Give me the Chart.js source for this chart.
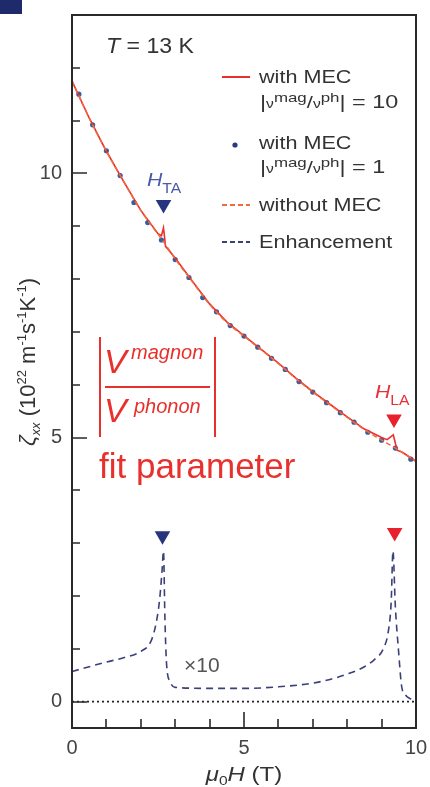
<!DOCTYPE html>
<html><head><meta charset="utf-8">
<script src="https://cdn.jsdelivr.net/npm/chart.js@4.4.1/dist/chart.umd.min.js"></script>
<style>html,body{margin:0;padding:0;background:#fff;}#wrap{width:430px;height:787px;}</style>
</head><body><div id="wrap"><canvas id="c" width="430" height="787"></canvas></div>
<script>
// ---------- data ----------
const withoutMecX = [0,0.5,1,1.5,2,2.5,2.6,2.7,3,3.5,4,4.5,5,5.5,6,6.5,7,7.5,8,8.5,9,9.3,9.4,9.5,10];
const withoutMecY = [11.75,11.05,10.42,9.85,9.30,8.85,8.76,8.67,8.38,7.95,7.52,7.18,6.92,6.66,6.40,6.12,5.86,5.62,5.38,5.15,4.95,4.84,4.80,4.76,4.55];

const mec10X = [0,0.5,1,1.5,2,2.5,2.6,2.66,2.72,3,3.5,4,4.5,5,5.5,6,6.5,7,7.5,8,8.5,9,9.16,9.34,9.45,9.6,10];
const mec10Y = [11.75,11.05,10.42,9.85,9.30,8.86,8.82,8.97,8.62,8.40,7.96,7.53,7.19,6.93,6.67,6.41,6.13,5.87,5.63,5.39,5.16,5.00,4.96,5.05,4.76,4.72,4.55];

const mec1X = [0.2,0.6,1.0,1.4,1.8,2.2,2.6,3.0,3.4,3.8,4.2,4.6,5.0,5.4,5.8,6.2,6.6,7.0,7.4,7.8,8.2,8.6,9.0,9.4,9.85];
const mec1Y = [11.50,10.92,10.43,9.96,9.45,9.07,8.74,8.37,8.03,7.65,7.38,7.12,6.92,6.71,6.50,6.29,6.06,5.86,5.66,5.47,5.29,5.10,4.95,4.80,4.59];

const enhX = [0,0.5,1.0,1.5,2.0,2.3,2.45,2.55,2.62,2.66,2.7,2.75,2.85,3.0,4,5,6,7,7.5,8,8.5,8.8,9.05,9.2,9.28,9.33,9.4,9.5,9.58,9.7,9.85,10];
const enhY = [0.57,0.66,0.75,0.83,0.95,1.15,1.5,1.95,2.5,2.85,1.6,0.7,0.38,0.27,0.25,0.25,0.28,0.35,0.42,0.52,0.66,0.80,1.0,1.35,1.9,2.85,1.8,0.9,0.3,0.12,0.05,0.0];

const zeroX = [0,10];
const zeroY = [0,0];

const taMarkX = [2.66,2.63];
const taMarkY = [9.41,3.14];
const laMarkX = [9.36,9.38];
const laMarkY = [5.35,3.20];

const xTickLabels = [0,5,10];
const yTickLabels = [0,5,10];
const xMinorTicks = [1,2,3,4,5,6,7,8,9];
const yMinorTicks = [0,1,2,3,4,5,6,7,8,9,10,11,12];

// ---------- helpers ----------
const pts = (xs, ys) => xs.map((x,i)=>({x:x,y:ys[i]}));
const FF = '"Liberation Sans", Arial, Helvetica, sans-serif';
const RED = '#e8302c', ORANGE = '#f06a3c', DOTBLUE = '#2d62a6', NAVY = '#3b4078', TXT = '#333';

function drawRich(ctx, parts, x, y, align, sx){
  sx = sx || 1;
  let w = 0;
  parts.forEach(p=>{ ctx.font = p.f; p.w = ctx.measureText(p.t).width; w += p.w; });
  ctx.save();
  ctx.translate(x, y);
  ctx.scale(sx, 1);
  let cx = align === 'center' ? -w/2 : 0;
  parts.forEach(p=>{ ctx.font = p.f; ctx.fillText(p.t, cx, (p.dy||0)); cx += p.w; });
  ctx.restore();
  return w*sx;
}
const L = (t, size, sx)=>[{t:t,f:size+'px '+FF}];

function zeroPad(s){ s.paddingTop = 0; s.paddingBottom = 0; s.paddingLeft = 0; s.paddingRight = 0; }

const decor = {
  id:'decor',
  beforeDraw(chart){
    const ctx = chart.ctx;
    ctx.save();
    ctx.fillStyle = '#fff'; ctx.fillRect(0,0,chart.width,chart.height);
    ctx.fillStyle = '#1f2a6a'; ctx.fillRect(0,0,22,14);
    ctx.restore();
  },
  afterDraw(chart){
    const ctx = chart.ctx, a = chart.chartArea, xs = chart.scales.x, ys = chart.scales.y;
    ctx.save();
    // frame
    ctx.strokeStyle = '#2a2a2a'; ctx.lineWidth = 2;
    ctx.strokeRect(a.left, a.top, a.right-a.left, a.bottom-a.top);
    // inward ticks
    ctx.lineWidth = 1.6;
    ctx.beginPath();
    yMinorTicks.forEach(v=>{
      const py = Math.round(ys.getPixelForValue(v));
      const len = yTickLabels.includes(v) ? 15 : 8;
      ctx.moveTo(a.left, py); ctx.lineTo(a.left+len, py);
    });
    xMinorTicks.forEach(v=>{
      const px = Math.round(xs.getPixelForValue(v));
      const len = xTickLabels.includes(v) ? 16 : 9;
      ctx.moveTo(px, a.bottom); ctx.lineTo(px, a.bottom-len);
    });
    ctx.stroke();

    ctx.textBaseline = 'alphabetic';
    ctx.textAlign = 'left';
    // T = 13 K
    ctx.fillStyle = TXT;
    drawRich(ctx,[{t:'T',f:'italic 22px '+FF},{t:' = 13 K',f:'22px '+FF}],106,53,'left',1.05);

    // legend
    ctx.lineWidth = 2;
    ctx.strokeStyle = RED; ctx.setLineDash([]);
    ctx.beginPath(); ctx.moveTo(222,77); ctx.lineTo(250,77); ctx.stroke();
    ctx.fillStyle = TXT;
    drawRich(ctx, L('with MEC',18), 259, 83, 'left', 1.2);
    const ratio = (val)=>[
      {t:'|',f:'18px '+FF},
      {t:'\u03bd',f:'12px '+FF},
      {t:'mag',f:'13px '+FF,dy:-6},
      {t:'/',f:'17px '+FF},
      {t:'\u03bd',f:'12px '+FF},
      {t:'ph',f:'13px '+FF,dy:-6},
      {t:'| = '+val,f:'18px '+FF}
    ];
    drawRich(ctx, ratio('10'), 260, 108, 'left', 1.3);
    ctx.fillStyle = '#2a3a80';
    ctx.beginPath(); ctx.arc(235,145,2.6,0,Math.PI*2); ctx.fill();
    ctx.fillStyle = TXT;
    drawRich(ctx, L('with MEC',18), 259, 149, 'left', 1.2);
    drawRich(ctx, ratio('1'), 260, 173, 'left', 1.3);
    ctx.strokeStyle = ORANGE; ctx.setLineDash([5,3]);
    ctx.beginPath(); ctx.moveTo(222,205); ctx.lineTo(250,205); ctx.stroke();
    ctx.strokeStyle = NAVY;
    ctx.beginPath(); ctx.moveTo(222,242); ctx.lineTo(250,242); ctx.stroke();
    ctx.setLineDash([]);
    ctx.fillStyle = TXT;
    drawRich(ctx, L('without MEC',18), 259, 211, 'left', 1.2);
    drawRich(ctx, L('Enhancement',18), 259, 248, 'left', 1.2);

    // H labels
    ctx.fillStyle = '#4b5aa6';
    drawRich(ctx,[{t:'H',f:'italic 19px '+FF},{t:'TA',f:'14px '+FF,dy:7}],147,186,'left',1.12);
    ctx.fillStyle = '#e8303a';
    drawRich(ctx,[{t:'H',f:'italic 19px '+FF},{t:'LA',f:'14px '+FF,dy:7}],375,398,'left',1.12);

    // x10
    ctx.fillStyle = '#555';
    ctx.font = '21px '+FF; ctx.fillText('\u00d710',184,672);

    // fraction annotation
    ctx.strokeStyle = RED; ctx.fillStyle = RED; ctx.lineWidth = 2;
    ctx.beginPath();
    ctx.moveTo(100,337); ctx.lineTo(100,437);
    ctx.moveTo(215,337); ctx.lineTo(215,437);
    ctx.moveTo(105,387); ctx.lineTo(210,387);
    ctx.stroke();
    ctx.font = 'italic 34px '+FF; ctx.fillText('V',104,373);
    ctx.font = 'italic 20px '+FF; ctx.fillText('magnon',131,359);
    ctx.font = 'italic 34px '+FF; ctx.fillText('V',104,422);
    ctx.font = 'italic 20px '+FF; ctx.fillText('phonon',134,413);
    ctx.font = '35px '+FF; ctx.fillText('fit parameter',99,478);

    // axis titles
    ctx.fillStyle = TXT;
    drawRich(ctx,[
      {t:'\u03bc',f:'italic 20px '+FF},
      {t:'0',f:'13px '+FF,dy:4},
      {t:'H',f:'italic 20px '+FF},
      {t:' (T)',f:'20px '+FF}
    ],244,781,'center',1.2);
    ctx.save();
    ctx.translate(35,362); ctx.rotate(-Math.PI/2);
    drawRich(ctx,[
      {t:'\u03b6',f:'italic 23px '+FF},
      {t:'xx',f:'italic 13px '+FF,dy:5},
      {t:' (10',f:'22px '+FF},
      {t:'22',f:'13px '+FF,dy:-9},
      {t:' m',f:'22px '+FF},
      {t:'-1',f:'13px '+FF,dy:-9},
      {t:'s',f:'22px '+FF},
      {t:'-1',f:'13px '+FF,dy:-9},
      {t:'K',f:'22px '+FF},
      {t:'-1',f:'13px '+FF,dy:-9},
      {t:')',f:'22px '+FF}
    ],0,0,'center');
    ctx.restore();
    ctx.restore();
  }
};

new Chart(document.getElementById('c'), {
  type:'scatter',
  data:{ datasets:[
    {label:'zero', data:pts(zeroX,zeroY), showLine:true, borderColor:'#222', borderWidth:1.6, borderDash:[2,3], pointRadius:0},
    {label:'without MEC', data:pts(withoutMecX,withoutMecY), showLine:true, borderColor:ORANGE, borderWidth:1.5, borderDash:[5,3], pointRadius:0, cubicInterpolationMode:'monotone'},
    {label:'with MEC |vmag/vph| = 10', data:pts(mec10X,mec10Y), showLine:true, borderColor:RED, borderWidth:1.6, pointRadius:0, tension:0},
    {label:'with MEC |vmag/vph| = 1', data:pts(mec1X,mec1Y), showLine:false, pointRadius:2.6, pointBackgroundColor:DOTBLUE, pointBorderWidth:0},
    {label:'Enhancement', data:pts(enhX,enhY), showLine:true, borderColor:NAVY, borderWidth:1.6, borderDash:[7,5], pointRadius:0, cubicInterpolationMode:'monotone'},
    {label:'H_TA', data:pts(taMarkX,taMarkY), showLine:false, pointStyle:'triangle', rotation:180, pointRadius:9, pointBackgroundColor:'#27357f', pointBorderWidth:0},
    {label:'H_LA', data:pts(laMarkX,laMarkY), showLine:false, pointStyle:'triangle', rotation:180, pointRadius:9, pointBackgroundColor:'#e8212e', pointBorderWidth:0}
  ]},
  options:{
    responsive:false, animation:false, devicePixelRatio:1,
    layout:{padding:{top:15,right:14,left:0,bottom:0}},
    plugins:{legend:{display:false}, tooltip:{enabled:false}},
    scales:{
      x:{type:'linear', min:0, max:10,
        grid:{display:false, drawTicks:false, tickLength:0}, border:{display:false},
        afterBuildTicks:(s)=>{ s.ticks = xTickLabels.map(v=>({value:v})); },
        afterFit:(s)=>{ s.height = 59; zeroPad(s); },
        ticks:{autoSkip:false, padding:8, color:'#444', font:{family:FF,size:20}, maxRotation:0}
      },
      y:{type:'linear', min:-0.5, max:13,
        grid:{display:false, drawTicks:false, tickLength:0}, border:{display:false},
        afterBuildTicks:(s)=>{ s.ticks = yTickLabels.map(v=>({value:v})); },
        afterFit:(s)=>{ s.width = 72; zeroPad(s); },
        ticks:{autoSkip:false, padding:10, color:'#444', font:{family:FF,size:20}}
      }
    }
  },
  plugins:[decor]
});
</script></body></html>
